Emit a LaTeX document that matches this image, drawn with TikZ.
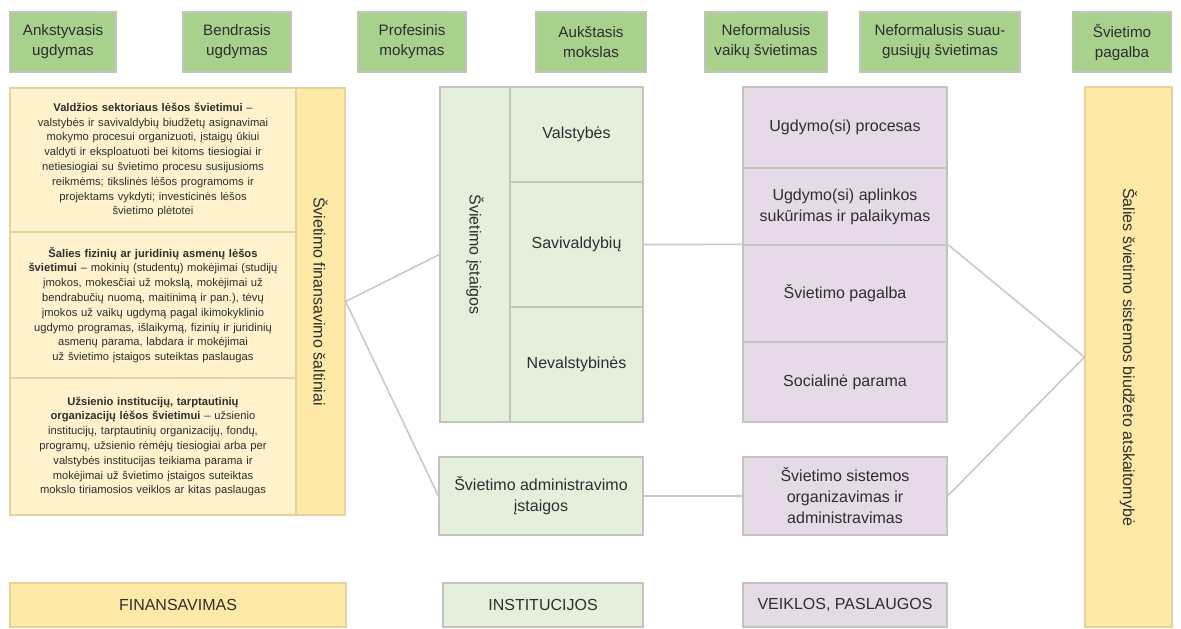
\documentclass[tikz,border=0pt]{standalone}
\usepackage{fontspec}
\setmainfont{Liberation Sans}
\definecolor{hdrgreen}{HTML}{A9D18E}
\definecolor{palegreen}{HTML}{E4F0DC}
\definecolor{paleyellow}{HTML}{FFF2CC}
\definecolor{deepyellow}{HTML}{FFE9A6}
\definecolor{palepurple}{HTML}{E6DAE9}
\definecolor{boxline}{HTML}{C4C4BC}
\definecolor{yelline}{HTML}{E3D49C}
\definecolor{linkgray}{HTML}{C9C9CC}
\definecolor{txt}{HTML}{2E2E2E}

\tikzset{
  box/.style={draw=boxline,line width=0.6pt,inner sep=1pt,align=center,text=txt,
              font=\fontsize{8}{10.5}\selectfont},
  hdr/.style={box,fill=hdrgreen,minimum height=30pt,font=\fontsize{7.6}{10}\selectfont},
  fin/.style={box,draw=yelline,fill=paleyellow,font=\fontsize{5.6}{7.4}\selectfont,text width=138pt},
  inst/.style={box,fill=palegreen},
  veik/.style={box,fill=palepurple},
  link/.style={draw=linkgray,line width=0.8pt}
}

\begin{document}
\begin{tikzpicture}[x=0.5pt,y=-0.5pt]
\useasboundingbox (0,0) rectangle (1181,628);

% header
                    \node[hdr,minimum width=53pt] (H1) at (63,42) {Ankstyvasis\\ugdymas};
                    \node[hdr,minimum width=54pt] (H2) at (237,42) {Bendrasis\\ugdymas};
                    \node[hdr,minimum width=54pt] (H3) at (412,42) {Profesinis\\mokymas};
                    \node[hdr,minimum width=55pt] (H4) at (591,42) {Aukštasis\\mokslas};
                    \node[hdr,minimum width=61pt] (H5) at (766,42) {Neformalusis\\vaikų švietimas};
                    \node[hdr,minimum width=80pt] (H6) at (940,42) {Neformalusis suau-\\gusiųjų švietimas};
                    \node[hdr,minimum width=49.5pt] (H7) at (1122,42) {Švietimo\\pagalba};

%%%%%%%%%%%%%%%%%%%%%%%%%%%%%%%%%%%%%%%%%%%%%%%%%%%%%%%%%%%%%%%%%%%%%%%%%%%%%%%%%%%%

% finansavimas
                    % 1
                    \node[fin,minimum width=143pt,minimum height=72pt] (VALD) at (153,160)
                      {\textbf{Valdžios sektoriaus lėšos švietimui} –\\
                       valstybės ir savivaldybių biudžetų asignavimai\\
                       mokymo procesui organizuoti, įstaigų ūkiui\\
                       valdyti ir eksploatuoti bei kitoms tiesiogiai ir\\
                       netiesiogiai su švietimo procesu susijusioms\\
                       reikmėms; tikslinės lėšos programoms ir\\
                       projektams vykdyti; investicinės lėšos\\
                       švietimo plėtotei};
                    % 2
                    \node[fin,minimum width=143pt,minimum height=73pt] (SALIES) at (153,305)
                      {\textbf{Šalies fizinių ar juridinių asmenų lėšos}\\
                       \textbf{švietimui} – mokinių (studentų) mokėjimai (studijų\\
                       įmokos, mokesčiai už mokslą, mokėjimai už\\
                       bendrabučių nuomą, maitinimą ir pan.), tėvų\\
                       įmokos už vaikų ugdymą pagal ikimokyklinio\\
                       ugdymo programas, išlaikymą, fizinių ir juridinių\\
                       asmenų parama, labdara ir mokėjimai\\
                       už švietimo įstaigos suteiktas paslaugas};
                    % 3
                    \node[fin,minimum width=143pt,minimum height=68.5pt] (UZS) at (153,446.5)
                      {\textbf{Užsienio institucijų, tarptautinių}\\
                       \textbf{organizacijų lėšos švietimui} – užsienio\\
                       institucijų, tarptautinių organizacijų, fondų,\\
                       programų, užsienio rėmėjų tiesiogiai arba per\\
                       valstybės institucijas teikiama parama ir\\
                       mokėjimai už švietimo įstaigos suteiktas\\
                       mokslo tiriamosios veiklos ar kitas paslaugas};

                    \node[box,draw=yelline,fill=deepyellow,minimum width=24.5pt,minimum height=213.5pt] (SALT) at (320.5,301.5) {};
                    \node[rotate=-90,text=txt,font=\fontsize{8}{10}\selectfont] at (SALT) {Švietimo finansavimo šaltiniai};

%%%%%%%%%%%%%%%%%%%%%%%%%%%%%%%%%%%%%%%%%%%%%%%%%%%%%%%%%%%%%%%%%%%%%%%%%%%%%%%%%%%%

% institucijos
                    \node[inst,minimum width=35pt,minimum height=167.5pt] (IST) at (475,254.5) {};
                    \node[rotate=-90,text=txt,font=\fontsize{8}{10}\selectfont] at (IST) {Švietimo įstaigos};
                    \node[inst,minimum width=66.5pt,minimum height=47.5pt] (VALST) at (576.5,134.5) {Valstybės};
                    \node[inst,minimum width=66.5pt,minimum height=62.5pt] (SAV) at (576.5,244.5) {Savivaldybių};
                    \node[inst,minimum width=66.5pt,minimum height=57.5pt] (NEV) at (576.5,364.5) {Nevalstybinės};

                    \node[inst,minimum width=102pt,minimum height=39pt] (ADM) at (541,496) {Švietimo administravimo\\įstaigos};

%%%%%%%%%%%%%%%%%%%%%%%%%%%%%%%%%%%%%%%%%%%%%%%%%%%%%%%%%%%%%%%%%%%%%%%%%%%%%%%%%%%%

% veiklos
                    \node[veik,minimum width=102pt,minimum height=40.5pt] (PROC) at (845,127.5) {Ugdymo(si) procesas};
                    \node[veik,minimum width=102pt,minimum height=38.5pt] (APL) at (845,206.5) {Ugdymo(si) aplinkos\\sukūrimas ir palaikymas};
                    \node[veik,minimum width=102pt,minimum height=48.5pt] (PAG) at (845,293.5) {Švietimo pagalba};
                    \node[veik,minimum width=102pt,minimum height=40pt] (SOC) at (845,382) {Socialinė parama};

                    \node[veik,minimum width=102pt,minimum height=39pt] (ORG) at (845,496) {Švietimo sistemos\\organizavimas ir\\administravimas};

                    \node[box,draw=yelline,fill=deepyellow,minimum width=43.5pt,minimum height=270pt] (BIUD) at (1128.5,357) {};
                    \node[rotate=-90,text=txt,font=\fontsize{8}{10}\selectfont] at (BIUD) {Šalies švietimo sistemos biudžeto atskaitomybė};

%%%%%%%%%%%%%%%%%%%%%%%%%%%%%%%%%%%%%%%%%%%%%%%%%%%%%%%%%%%%%%%%%%%%%%%%%%%%%%%%%%%%

% legend
                    \node[box,draw=yelline,fill=deepyellow,minimum width=168pt,minimum height=22pt] (LFIN) at (178,605) {FINANSAVIMAS};
                    \node[inst,minimum width=100pt,minimum height=22pt] (LINST) at (543,605) {INSTITUCIJOS};
                    \node[veik,minimum width=102pt,minimum height=22pt] (LVEIK) at (845,605) {VEIKLOS, PASLAUGOS};

% links
                    \path[link] (SALT.east) edge (IST.west)
                                (SALT.east) edge (ADM.west)
                                (SAV.east) edge (PAG.north west)
                                (ADM.east) edge (ORG.west)
                                (PAG.north east) edge (BIUD.west)
                                (ORG.east) edge (BIUD.west);

\end{tikzpicture}
\end{document}
